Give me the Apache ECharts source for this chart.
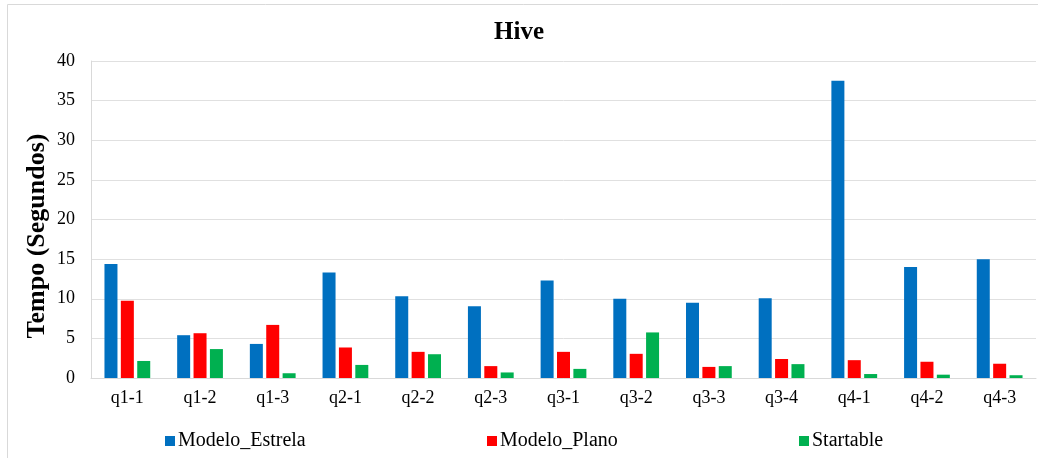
<!DOCTYPE html>
<html>
<head>
<meta charset="utf-8">
<script src="https://cdn.jsdelivr.net/npm/echarts@6/dist/echarts.min.js"></script>
<style>html,body{margin:0;padding:0;background:#fff}#c{width:1038px;height:458px}</style>
</head>
<body>
<div id="c"></div>
<script>
var categories = ['q1-1','q1-2','q1-3','q2-1','q2-2','q2-3','q3-1','q3-2','q3-3','q3-4','q4-1','q4-2','q4-3'];
var modeloEstrela = [14.4, 5.4, 4.3, 13.3, 10.3, 9.05, 12.3, 10.0, 9.5, 10.05, 37.5, 14.0, 15.0];
var modeloPlano   = [9.75, 5.65, 6.7, 3.85, 3.3, 1.5, 3.3, 3.05, 1.4, 2.4, 2.25, 2.05, 1.8];
var startable     = [2.15, 3.65, 0.6, 1.65, 3.0, 0.7, 1.15, 5.75, 1.5, 1.75, 0.5, 0.42, 0.35];
var yTicks = [0, 5, 10, 15, 20, 25, 30, 35, 40];
var yAxisTitle = 'Tempo (Segundos)';

var FONT = '"Liberation Serif", "Times New Roman", serif';
var chart = echarts.init(document.getElementById('c'));
function leg(name, left) {
  return { data: [name], left: left, top: 426, itemWidth: 10, itemHeight: 10, icon: 'rect',
    textStyle: { fontFamily: FONT, fontSize: 20, color: '#000', padding: [0,0,0,-2] }, selectedMode: false };
}
chart.setOption({
  animation: false,
  title: { text: 'Hive', left: 'center', top: 15, textStyle: { fontFamily: FONT, fontSize: 25, fontWeight: 'bold', color: '#000' } },
  graphic: [
    { type: 'rect', shape: { x: 7.5, y: 4.5, width: 1100, height: 500 }, style: { fill: 'none', stroke: '#d9d9d9', lineWidth: 1 }, silent: true },
    { type: 'text', x: 37, y: 236, rotation: Math.PI / 2, silent: true,
      style: { text: yAxisTitle, fill: '#000', font: 'bold 26px ' + FONT, align: 'center', verticalAlign: 'middle', textAlign: 'center', textVerticalAlign: 'middle' } }
  ],
  legend: [leg('Modelo_Estrela', 160), leg('Modelo_Plano', 482), leg('Startable', 794)],
  grid: { left: 91, right: 2, top: 61, bottom: 80 },
  xAxis: {
    type: 'category', data: categories,
    axisLine: { lineStyle: { color: '#d9d9d9' } },
    axisTick: { show: false },
    axisLabel: { fontFamily: FONT, fontSize: 18, color: '#000', margin: 11 }
  },
  yAxis: {
    type: 'value', min: yTicks[0], max: yTicks[yTicks.length - 1], interval: 5,
    axisLine: { show: true, lineStyle: { color: '#d9d9d9' } },
    axisTick: { show: false },
    axisLabel: { fontFamily: FONT, fontSize: 18, color: '#000', margin: 16 },
    splitLine: { lineStyle: { color: '#e0e0e0' } }
  },
  series: [
    { name: 'Modelo_Estrela', type: 'bar', data: modeloEstrela, barWidth: 13, barGap: '26%', itemStyle: { color: '#0070C0' } },
    { name: 'Modelo_Plano', type: 'bar', data: modeloPlano, barWidth: 13, barGap: '26%', itemStyle: { color: '#FF0000' } },
    { name: 'Startable', type: 'bar', data: startable, barWidth: 13, barGap: '26%', itemStyle: { color: '#00B050' } }
  ]
});
</script>
</body>
</html>
